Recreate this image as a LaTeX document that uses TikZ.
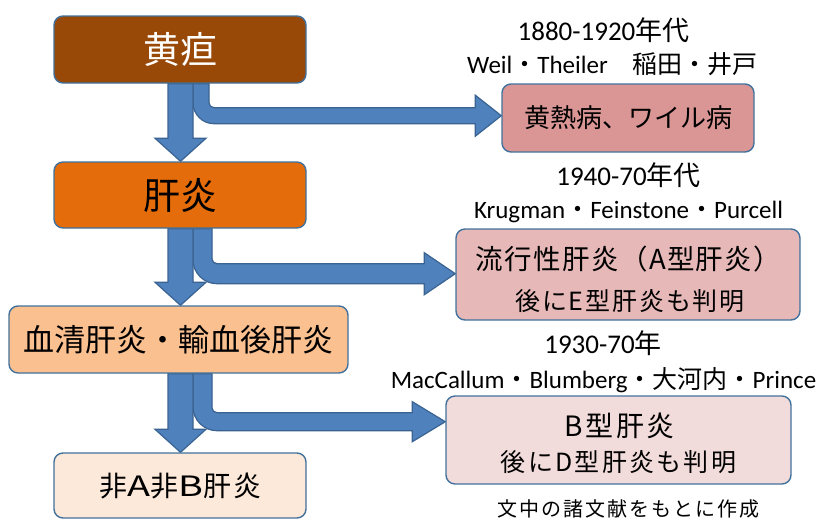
\documentclass[tikz,border=0pt]{standalone}
\usepackage{fontspec}
\usepackage{graphicx}
\setmainfont{Carlito}
\newfontfamily\jp{Noto Sans CJK JP}
\usetikzlibrary{calc,backgrounds}
\definecolor{arrfill}{HTML}{4F81BD}
\definecolor{arrline}{HTML}{3A6391}
\definecolor{bord}{HTML}{41719C}
\definecolor{cA}{HTML}{984807}
\definecolor{cB}{HTML}{E46C0A}
\definecolor{cC}{HTML}{FAC090}
\definecolor{cD}{HTML}{FDE9D9}
\definecolor{rA}{HTML}{D99694}
\definecolor{rB}{HTML}{E6B9B8}
\definecolor{rC}{HTML}{F2DCDB}
\newcommand\vblock[2]{%
 \draw[blk] ($(#1.south -| xref)+(-12.5,0)$) -- ($(#2.north -| xref)+(-12.5,-23)$) -- ($(#2.north -| xref)+(-25.5,-23)$) -- (#2.north -| xref) -- ($(#2.north -| xref)+(25.5,-23)$) -- ($(#2.north -| xref)+(12.5,-23)$) -- ($(#1.south -| xref)+(12.5,0)$) -- cycle;}
\newcommand\bentblock[7]{%
 \pgfmathsetmacro\bbR{5+#3}%
 \pgfmathsetmacro\bbm{(#4+#5)/2}%
 \pgfmathsetmacro\bbk{0.552*\bbR}%
 \coordinate (bbS) at (#1.south -| xref);
 \coordinate (bbM) at ($(bbS)+(0,\bbm)$);
 \coordinate (bbH) at (bbM -| #2.west);
 \draw[blk] ($(bbS)+(12.5,0)$) -- ($(bbS)+(12.5,#5-\bbR)$) .. controls ($(bbS)+(12.5,#5-\bbR+\bbk)$) and ($(bbS)+(12.5+\bbR-\bbk,#5)$) .. ($(bbS)+(12.5+\bbR,#5)$) -- ($(bbH)+(-#7,#5-\bbm)$) -- ($(bbH)+(-#7,#6)$) -- (bbH) -- ($(bbH)+(-#7,-#6)$) -- ($(bbH)+(-#7,#4-\bbm)$) -- ($(bbS)+(12.5+#3+5,#4)$) .. controls ($(bbS)+(12.5+#3+2.24,#4)$) and ($(bbS)+(12.5+#3,#4-2.24)$) .. ($(bbS)+(12.5+#3,#4-5)$) -- ($(bbS)+(12.5+#3,0)$) -- cycle;}
\newcommand\wideL[1]{\scalebox{1.35}[1]{#1}}
\begin{document}
\begin{tikzpicture}[x=1pt,y=-1pt,
  box/.style={draw=bord,line width=1.4pt,rounded corners=9pt,inner sep=0pt},
  blk/.style={fill=arrfill,draw=arrline,line width=1.2pt,line join=miter},
  lbl/.style={anchor=base,inner sep=0pt},
  txt/.style={inner sep=0pt}]
\useasboundingbox (0,0) rectangle (822,520);
\coordinate (xref) at (180.5,0);
% left boxes
\node[box,fill=cA,minimum width=252pt,minimum height=67pt,text=white] (b1) at (180,49.5) {\jp\fontsize{37}{40}\selectfont 黄疸};
\node[box,fill=cB,minimum width=252pt,minimum height=66pt] (b2) at (180,195) {\jp\fontsize{37}{40}\selectfont 肝炎};
\node[box,fill=cC,minimum width=339pt,minimum height=67pt] (b3) at (178.5,339.5) {\jp\fontsize{31}{34}\selectfont 血清肝炎・輸血後肝炎};
\node[box,fill=cD,minimum width=252pt,minimum height=65pt] (b4) at (180,485.5) {};
\node[txt] (b4t) at (180.5,486) {\jp\addfontfeature{LetterSpace=8}\fontsize{28}{32}\selectfont 非\wideL{A}非\wideL{B}肝炎};
% right boxes
\node[box,fill=rA,minimum width=252pt,minimum height=68pt] (r1) at (628,118) {\jp\fontsize{26}{30}\selectfont 黄熱病、ワイル病};
\node[box,fill=rB,minimum width=344pt,minimum height=91pt] (r2) at (628,274.5) {};
\node[txt] (r2a) at (628.5,259) {\jp\addfontfeature{LetterSpace=5}\fontsize{27.5}{30}\selectfont 流行性肝炎（A型肝炎）};
\node[txt] (r2b) at (630,301) {\jp\addfontfeature{LetterSpace=7.5}\fontsize{25}{28}\selectfont 後にE型肝炎も判明};
\node[box,fill=rC,minimum width=345pt,minimum height=88pt] (r3) at (618.5,440) {};
\node[txt] (r3a) at (619.5,425.5) {\jp\addfontfeature{LetterSpace=10}\fontsize{28}{30}\selectfont B型肝炎};
\node[txt] (r3b) at (618.5,462) {\jp\addfontfeature{LetterSpace=9}\fontsize{25}{28}\selectfont 後にD型肝炎も判明};
% arrows
\begin{pgfonlayer}{background}
\bentblock{b1}{r1}{16}{24}{40}{20.5}{26}
\bentblock{b2}{r2}{19}{35}{55}{21}{31}
\bentblock{b3}{r3}{19}{39}{57}{20}{33}
\vblock{b1}{b2}
\vblock{b2}{b3}
\vblock{b3}{b4}
\end{pgfonlayer}
% labels
\node[lbl] (t1) at (603.5,40) {\fontsize{27}{30}\selectfont 1880-1920{\jp 年代}};
\node[lbl] (t2) at (612.5,73) {\fontsize{25}{28}\selectfont Weil{\jp ・}Theiler{\jp 　稲田・井戸}};
\node[lbl] (t3) at (628.5,185) {\fontsize{27}{30}\selectfont 1940-70{\jp 年代}};
\node[lbl] (t4) at (628.5,218) {\fontsize{25}{28}\selectfont Krugman{\jp ・}Feinstone{\jp ・}Purcell};
\node[lbl] (t5) at (603,353) {\fontsize{27}{30}\selectfont 1930-70{\jp 年}};
\node[lbl] (t6) at (603.5,388) {\fontsize{25}{28}\selectfont MacCallum{\jp ・}Blumberg{\jp ・大河内・}Prince};
\node[lbl] (t7) at (628.5,516) {\jp\addfontfeature{LetterSpace=10}\fontsize{20}{24}\selectfont 文中の諸文献をもとに作成};
\end{tikzpicture}
\end{document}
